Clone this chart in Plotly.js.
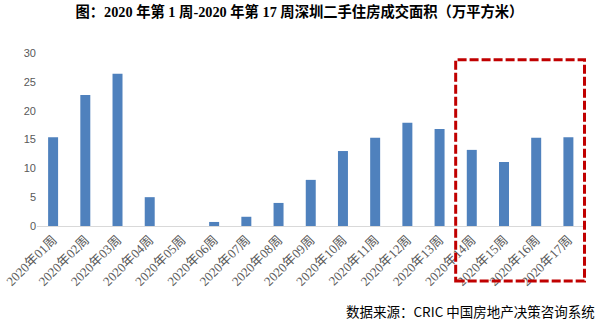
<!DOCTYPE html>
<html>
<head>
<meta charset="utf-8">
<script src="https://cdn.plot.ly/plotly-3.0.1.min.js"></script>
<style>html,body{margin:0;padding:0;background:#fff;}#chart{width:603px;height:325px;}</style>
</head>
<body>
<div id="chart"></div>
<script>
const weeks = ["2020年01周","2020年02周","2020年03周","2020年04周","2020年05周","2020年06周","2020年07周","2020年08周","2020年09周","2020年10周","2020年11周","2020年12周","2020年13周","2020年14周","2020年15周","2020年16周","2020年17周"];
const area = [15.4, 22.7, 26.4, 5.0, 0, 0.7, 1.6, 4.0, 8.0, 13.0, 15.3, 17.9, 16.8, 13.2, 11.1, 15.3, 15.4];
const yTicks = [0, 5, 10, 15, 20, 25, 30];
const titleText = "图：2020 年第 1 周-2020 年第 17 周深圳二手住房成交面积（万平方米）";
const sourceText = "数据来源：CRIC 中国房地产决策咨询系统";

const trace = {
  type: "bar",
  x: weeks,
  y: area,
  marker: {color: "#4F81BD"},
  hoverinfo: "x+y"
};

const layout = {
  width: 603,
  height: 325,
  margin: {l: 36.5, r: 16.5, t: 53, b: 99},
  paper_bgcolor: "#ffffff",
  plot_bgcolor: "#ffffff",
  bargap: 0.69,
  showlegend: false,
  font: {family: "Liberation Serif, Noto Sans CJK SC, serif", color: "#595959"},
  title: {
    text: "<b>" + titleText + "</b>",
    font: {family: "Liberation Serif, Noto Sans CJK SC, serif", size: 14.3, color: "#000000"},
    x: 0.478, xref: "paper", xanchor: "center",
    y: 0.963, yref: "container", yanchor: "middle"
  },
  xaxis: {
    type: "category",
    tickangle: -45,
    tickfont: {size: 13, color: "#595959", family: "Liberation Serif, Noto Sans CJK SC, serif"},
    showline: true,
    linecolor: "#D9D9D9",
    linewidth: 1,
    ticks: "",
    showgrid: false,
    zeroline: false
  },
  yaxis: {
    range: [0, 30],
    tickvals: yTicks,
    ticktext: yTicks.map(String),
    tickfont: {size: 11, color: "#595959", family: "Liberation Sans, Arial, sans-serif"},
    showgrid: false,
    zeroline: false,
    showline: false,
    ticks: "",
    ticklen: 0
  },
  shapes: [{
    type: "rect",
    xref: "x", yref: "paper",
    x0: 12.5, x1: 16.5,
    y0: -0.318, y1: 0.961,
    line: {color: "#C00000", width: 3, dash: "9px,3px"},
    fillcolor: "rgba(0,0,0,0)"
  }],
  annotations: [{
    text: sourceText,
    xref: "paper", yref: "paper",
    x: 1.02, y: -0.49,
    xanchor: "right", yanchor: "middle",
    showarrow: false,
    font: {family: "Noto Sans CJK SC, sans-serif", size: 13.5, color: "#000000"}
  }]
};

Plotly.newPlot("chart", [trace], layout, {displayModeBar: false, staticPlot: true});
</script>
</body>
</html>
